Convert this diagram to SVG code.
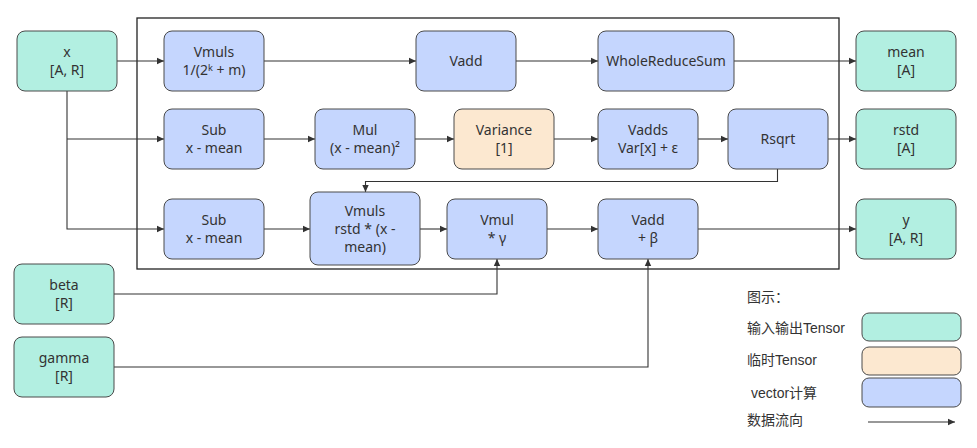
<svg xmlns="http://www.w3.org/2000/svg" width="977" height="448" viewBox="0 0 977 448">
<style>
.io{fill:#b2efe1;stroke:#4a4a4a;stroke-width:1}
.tmp{fill:#fce8d0;stroke:#4a4a4a;stroke-width:1}
.vec{fill:#c5d6fe;stroke:#4a4a4a;stroke-width:1}
.t{font-family:"Noto Sans","DejaVu Sans",sans-serif;font-size:14px;fill:#333;text-anchor:middle}
.lg{font-family:"Liberation Sans","Noto Sans CJK SC",sans-serif;font-size:14px;fill:#333}
.c{fill:none;stroke:#333;stroke-width:1.1}
</style>
<defs>
<marker id="ah" markerWidth="8" markerHeight="8" refX="7" refY="4" orient="auto" markerUnits="userSpaceOnUse">
<path d="M0,0.8 L7,4 L0,7.2 Z" fill="#333"/>
</marker>
</defs>
<rect x="137" y="18" width="702" height="251" fill="none" stroke="#222" stroke-width="1.3"/>
<g id="connectors">
<path class="c" d="M117,61 H164" marker-end="url(#ah)"/>
<path class="c" d="M67,91 V229 H164" marker-end="url(#ah)"/>
<path class="c" d="M67,139 H164" marker-end="url(#ah)"/>
<path class="c" d="M264,61 H416" marker-end="url(#ah)"/>
<path class="c" d="M516,61 H598" marker-end="url(#ah)"/>
<path class="c" d="M734,61 H856" marker-end="url(#ah)"/>
<path class="c" d="M264,139 H315" marker-end="url(#ah)"/>
<path class="c" d="M415,139 H454" marker-end="url(#ah)"/>
<path class="c" d="M554,139 H598" marker-end="url(#ah)"/>
<path class="c" d="M698,139 H728" marker-end="url(#ah)"/>
<path class="c" d="M828,139 H856" marker-end="url(#ah)"/>
<path class="c" d="M777.5,169 V181.5 H365.5 V192" marker-end="url(#ah)"/>
<path class="c" d="M264,229 H310" marker-end="url(#ah)"/>
<path class="c" d="M420,229 H447" marker-end="url(#ah)"/>
<path class="c" d="M547,229 H598" marker-end="url(#ah)"/>
<path class="c" d="M698,229 H856" marker-end="url(#ah)"/>
<path class="c" d="M114,294 H497 V259" marker-end="url(#ah)"/>
<path class="c" d="M114,367 H648 V259" marker-end="url(#ah)"/>
</g>
<g id="x"><rect class="io" x="17" y="31" width="100" height="60" rx="8"/><text class="t" x="67" y="57">x</text><text class="t" x="67" y="75">[A, R]</text></g>
<g id="vmuls1"><rect class="vec" x="164" y="31" width="100" height="60" rx="8"/><text class="t" x="214" y="57">Vmuls</text><text class="t" x="214" y="75">1/(2ᵏ + m)</text></g>
<g id="vadd1"><rect class="vec" x="416" y="31" width="100" height="60" rx="8"/><text class="t" x="466" y="66">Vadd</text></g>
<g id="wrs"><rect class="vec" x="598" y="31" width="136" height="60" rx="8"/><text class="t" x="666" y="66">WholeReduceSum</text></g>
<g id="mean"><rect class="io" x="856" y="31" width="100" height="60" rx="8"/><text class="t" x="906" y="57">mean</text><text class="t" x="906" y="75">[A]</text></g>
<g id="sub1"><rect class="vec" x="164" y="109" width="100" height="60" rx="8"/><text class="t" x="214" y="135">Sub</text><text class="t" x="214" y="153">x - mean</text></g>
<g id="mul"><rect class="vec" x="315" y="109" width="100" height="60" rx="8"/><text class="t" x="365" y="135">Mul</text><text class="t" x="365" y="153">(x - mean)²</text></g>
<g id="variance"><rect class="tmp" x="454" y="109" width="100" height="60" rx="8"/><text class="t" x="504" y="135">Variance</text><text class="t" x="504" y="153">[1]</text></g>
<g id="vadds"><rect class="vec" x="598" y="109" width="100" height="60" rx="8"/><text class="t" x="648" y="135">Vadds</text><text class="t" x="648" y="153">Var[x] + ε</text></g>
<g id="rsqrt"><rect class="vec" x="728" y="109" width="100" height="60" rx="8"/><text class="t" x="778" y="144">Rsqrt</text></g>
<g id="rstd"><rect class="io" x="856" y="109" width="100" height="60" rx="8"/><text class="t" x="906" y="135">rstd</text><text class="t" x="906" y="153">[A]</text></g>
<g id="sub2"><rect class="vec" x="164" y="199" width="100" height="60" rx="8"/><text class="t" x="214" y="225">Sub</text><text class="t" x="214" y="243">x - mean</text></g>
<g id="vmuls2"><rect class="vec" x="310" y="192" width="110" height="73" rx="8"/><text class="t" x="365" y="216">Vmuls</text><text class="t" x="365" y="234">rstd * (x -</text><text class="t" x="365" y="252">mean)</text></g>
<g id="vmul"><rect class="vec" x="447" y="199" width="100" height="60" rx="8"/><text class="t" x="497" y="225">Vmul</text><text class="t" x="497" y="243">* γ</text></g>
<g id="vadd2"><rect class="vec" x="598" y="199" width="100" height="60" rx="8"/><text class="t" x="648" y="225">Vadd</text><text class="t" x="648" y="243">+ β</text></g>
<g id="y"><rect class="io" x="856" y="199" width="100" height="60" rx="8"/><text class="t" x="906" y="225">y</text><text class="t" x="906" y="243">[A, R]</text></g>
<g id="beta"><rect class="io" x="14" y="264" width="100" height="60" rx="8"/><text class="t" x="64" y="290">beta</text><text class="t" x="64" y="308">[R]</text></g>
<g id="gamma"><rect class="io" x="14" y="337" width="100" height="60" rx="8"/><text class="t" x="64" y="363">gamma</text><text class="t" x="64" y="381">[R]</text></g>
<g id="legend">
<text class="lg" x="747" y="302">图示：</text>
<text class="lg" x="747" y="333">输入输出Tensor</text>
<rect class="io" x="862" y="313" width="99" height="28" rx="7"/>
<text class="lg" x="747" y="365">临时Tensor</text>
<rect class="tmp" x="862" y="347" width="99" height="28" rx="7"/>
<text class="lg" x="751" y="398">vector计算</text>
<rect class="vec" x="862" y="378" width="99" height="29" rx="7"/>
<text class="lg" x="747" y="425">数据流向</text>
<path class="c" d="M868,422 H955" marker-end="url(#ah)"/>
</g>
</svg>
